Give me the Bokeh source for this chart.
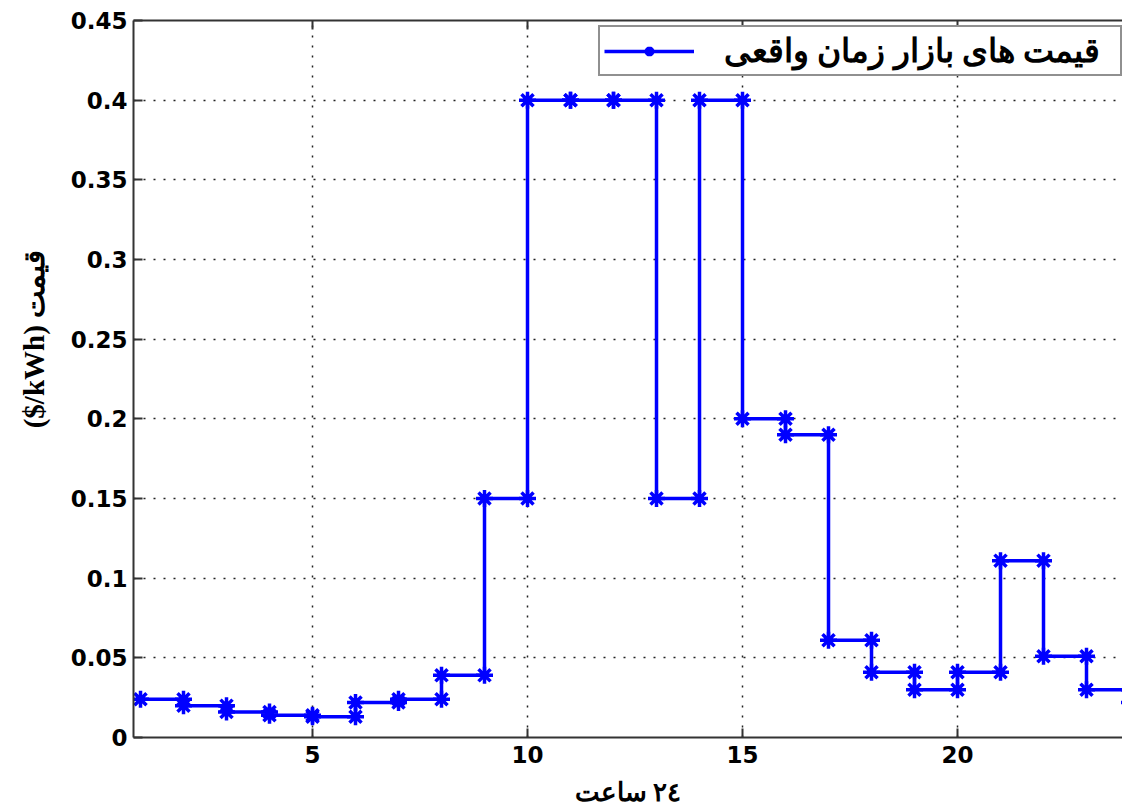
from bokeh.plotting import figure
from bokeh.models import Range1d, LinearAxis, FixedTicker, Legend, LegendItem
from bokeh.embed import file_html
from bokeh.resources import INLINE

# ---- data ----
hours = list(range(1, 25))
prices = [0.024, 0.020, 0.016, 0.014, 0.013, 0.022, 0.024, 0.039,
          0.150, 0.400, 0.400, 0.400, 0.150, 0.400, 0.200, 0.190,
          0.061, 0.041, 0.030, 0.041, 0.111, 0.051, 0.030, 0.022]
x_ticks = [5, 10, 15, 20]
y_ticks = [0, 0.05, 0.1, 0.15, 0.2, 0.25, 0.3, 0.35, 0.4, 0.45]
legend_label = "قیمت های بازار زمان واقعی"
x_label = "٢٤ ساعت"
y_label = "\u00a0" * 11 + "($/kWh) قیمت"

# stairs vertices (MATLAB stairs style)
sx, sy = [], []
for i in range(len(hours)):
    if i > 0:
        sx.append(hours[i]); sy.append(prices[i - 1])
    sx.append(hours[i]); sy.append(prices[i])

p = figure(width=1122, height=809, output_backend="svg", toolbar_location=None,
           x_range=Range1d(0.837, 23.837), y_range=Range1d(0, 0.45),
           min_border_left=133, min_border_right=0, min_border_top=20,
           min_border_bottom=68, x_axis_location=None, y_axis_location=None)
p.outline_line_color = None
p.background_fill_color = "white"
p.border_fill_color = "white"

tick_font = "DejaVu Sans"

xaxis = LinearAxis(ticker=FixedTicker(ticks=x_ticks))
yaxis = LinearAxis(ticker=FixedTicker(ticks=y_ticks))
for ax in (xaxis, yaxis):
    ax.major_tick_in = 9
    ax.major_tick_out = 0
    ax.minor_tick_line_color = None
    ax.axis_line_color = "#333333"
    ax.axis_line_width = 2
    ax.major_tick_line_color = "#333333"
    ax.major_tick_line_width = 2
    ax.major_label_text_font = tick_font
    ax.major_label_text_font_style = "bold"
    ax.major_label_text_font_size = "23px"
    ax.major_label_text_color = "black"
    ax.axis_label_text_font = "Liberation Serif"
    ax.axis_label_text_font_style = "bold"
    ax.axis_label_text_color = "black"
xaxis.major_label_standoff = 8
xaxis.axis_label = x_label
xaxis.axis_label_text_font_size = "26px"
xaxis.axis_label_standoff = 12
yaxis.major_label_standoff = 6
yaxis.major_label_overrides = {0: "0", 0.1: "0.1", 0.2: "0.2", 0.3: "0.3", 0.4: "0.4"}
yaxis.axis_label = y_label
yaxis.axis_label_text_font_size = "29px"
yaxis.axis_label_standoff = 18
p.add_layout(xaxis, "below")
p.add_layout(yaxis, "left")

top_axis = LinearAxis(ticker=FixedTicker(ticks=x_ticks))
top_axis.major_tick_in = 9
top_axis.major_tick_out = 0
top_axis.minor_tick_line_color = None
top_axis.axis_line_color = "#333333"
top_axis.axis_line_width = 2
top_axis.major_tick_line_color = "#333333"
top_axis.major_tick_line_width = 2
top_axis.major_label_overrides = {t: "" for t in x_ticks}
top_axis.major_label_standoff = 0
p.add_layout(top_axis, "above")

p.xgrid.ticker = FixedTicker(ticks=x_ticks)
p.ygrid.ticker = FixedTicker(ticks=y_ticks)
for g in (p.xgrid, p.ygrid):
    g.grid_line_color = "#222222"
    g.grid_line_dash = "2 8"
    g.grid_line_width = 1.5

ln = p.line(sx, sy, line_color="#0000ff", line_width=3.5)
mk = p.scatter(sx, sy, marker="asterisk", size=17, line_color="#0000ff", line_width=3.5)

leg = Legend(items=[LegendItem(label=legend_label, renderers=[ln, mk])],
             location=(465, 661))
leg.label_text_font = "Liberation Serif"
leg.label_text_font_style = "bold"
leg.label_text_font_size = "33px"
leg.label_text_color = "black"
leg.label_standoff = 30
leg.label_width = 392
leg.glyph_width = 90
leg.glyph_height = 24
leg.padding = 4
leg.border_line_color = "#222222"
leg.border_line_width = 2
leg.background_fill_alpha = 1
p.add_layout(leg, "center")

open("out.html", "w").write(file_html(p, INLINE))
